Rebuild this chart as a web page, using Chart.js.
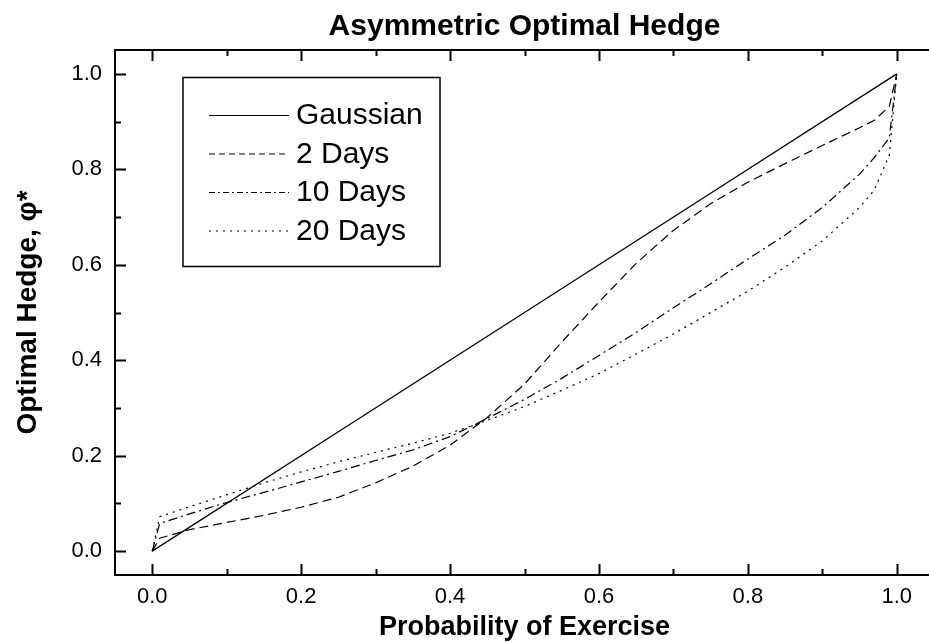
<!DOCTYPE html>
<html><head><meta charset="utf-8">
<script src="https://cdn.jsdelivr.net/npm/chart.js@4"></script>
<style>
html,body{margin:0;padding:0;background:#fff;overflow:hidden;width:929px;height:642px}
#wrap{width:945px;height:642px}
</style>
</head><body><div id="wrap"><canvas id="c" width="945" height="642"></canvas></div>
<script>
// ---- data ----
const probGrid = [0, 0.01, 0.05, 0.1, 0.15, 0.2, 0.25, 0.3, 0.35, 0.4, 0.45, 0.5, 0.55, 0.6, 0.65, 0.7, 0.75, 0.8, 0.85, 0.9, 0.95, 0.97, 0.99, 1.0];
const gaussX = [0, 0.25, 0.5, 0.75, 1.0];
const gaussY = [0, 0.25, 0.5, 0.75, 1.0];
const days2Y  = [0, 0.027, 0.045, 0.060, 0.075, 0.092, 0.113, 0.143, 0.178, 0.222, 0.280, 0.350, 0.438, 0.522, 0.603, 0.672, 0.728, 0.773, 0.812, 0.850, 0.887, 0.903, 0.932, 1.0];
const days10Y = [0, 0.058, 0.078, 0.102, 0.123, 0.145, 0.167, 0.190, 0.212, 0.240, 0.278, 0.318, 0.362, 0.410, 0.458, 0.510, 0.560, 0.612, 0.662, 0.720, 0.790, 0.825, 0.866, 1.0];
const days20Y = [0, 0.072, 0.093, 0.118, 0.143, 0.166, 0.187, 0.207, 0.226, 0.247, 0.274, 0.303, 0.337, 0.372, 0.413, 0.455, 0.500, 0.545, 0.595, 0.650, 0.720, 0.757, 0.830, 1.0];
const seriesNames = ['Gaussian', '2 Days', '10 Days', '20 Days'];
const xTickValues = [0, 0.2, 0.4, 0.6, 0.8, 1.0];
const yTickValues = [0, 0.2, 0.4, 0.6, 0.8, 1.0];
const xMinorValues = [0.1, 0.3, 0.5, 0.7, 0.9];
const yMinorValues = [0.1, 0.3, 0.5, 0.7, 0.9];

const FONT = "'Liberation Sans', Arial, sans-serif";
const pts = (xs, ys) => xs.map((x, i) => ({x: x, y: ys[i]}));

const dashStyles = [[], [9, 5], [9, 4, 2, 4], [2, 5]];

const frameTicks = {
  id: 'frameTicks',
  afterDatasetsDraw(chart) {
    const {ctx, chartArea: a, scales: {x, y}} = chart;
    ctx.save();
    ctx.strokeStyle = '#000';
    ctx.lineWidth = 2;
    ctx.strokeRect(a.left, a.top, a.right - a.left, a.bottom - a.top);
    ctx.beginPath();
    const tx = (vals, len) => vals.forEach(v => {
      const p = Math.round(x.getPixelForValue(v)) + 0.5;
      ctx.moveTo(p, a.bottom); ctx.lineTo(p, a.bottom - len);
      ctx.moveTo(p, a.top); ctx.lineTo(p, a.top + len);
    });
    const ty = (vals, len) => vals.forEach(v => {
      const p = Math.round(y.getPixelForValue(v)) + 0.5;
      ctx.moveTo(a.left, p); ctx.lineTo(a.left + len, p);
    });
    tx(xTickValues, 11); tx(xMinorValues, 6);
    ty(yTickValues, 11); ty(yMinorValues, 6);
    ctx.stroke();
    ctx.restore();
  }
};

const boxLegend = {
  id: 'boxLegend',
  afterDraw(chart) {
    const {ctx} = chart;
    ctx.save();
    ctx.strokeStyle = '#000';
    ctx.lineWidth = 1.5;
    ctx.strokeRect(183, 77.5, 257, 189);
    ctx.font = '30px ' + FONT;
    ctx.fillStyle = '#000';
    ctx.textBaseline = 'middle';
    chart.data.datasets.forEach((ds, i) => {
      const yc = 115 + i * 38.5;
      ctx.beginPath();
      ctx.lineWidth = 1.1;
      ctx.setLineDash(i === 1 ? [6, 4] : i === 2 ? [6, 3, 2, 3] : i === 3 ? [2, 5] : []);
      ctx.moveTo(209, yc + 0.5); ctx.lineTo(289, yc + 0.5);
      ctx.stroke();
      ctx.setLineDash([]);
      ctx.fillText(ds.label, 296, yc + 1);
    });
    ctx.restore();
  }
};

const datasets = [
  {label: seriesNames[0], data: pts(gaussX, gaussY)},
  {label: seriesNames[1], data: pts(probGrid, days2Y)},
  {label: seriesNames[2], data: pts(probGrid, days10Y)},
  {label: seriesNames[3], data: pts(probGrid, days20Y)}
].map((d, i) => Object.assign(d, {
  borderColor: '#000', borderWidth: i === 0 ? 1.3 : 1.2, borderDash: dashStyles[i],
  pointRadius: 0, fill: false, tension: 0
}));

new Chart(document.getElementById('c'), {
  type: 'line',
  data: {datasets},
  plugins: [frameTicks, boxLegend],
  options: {
    responsive: false, animation: false, devicePixelRatio: 1,
    layout: {padding: {left: 0, right: 11, top: 0, bottom: 0}},
    plugins: {
      legend: {display: false},
      tooltip: {enabled: false},
      title: {
        display: true, fullSize: false, text: 'Asymmetric Optimal Hedge', color: '#000',
        font: {family: FONT, size: 30, weight: 'bold', lineHeight: 1.2},
        padding: {top: 9, bottom: 5}
      }
    },
    scales: {
      x: {
        type: 'linear', min: -0.05, max: 1.05,
        grid: {display: false, drawTicks: false}, border: {display: false},
        afterBuildTicks: s => { s.ticks = xTickValues.map(v => ({value: v})); },
        afterFit: s => { s.height = 67; },
        ticks: {color: '#000', padding: 9, font: {family: FONT, size: 22}, callback: v => Number(v).toFixed(1), maxRotation: 0},
        title: {display: true, text: 'Probability of Exercise', color: '#000',
          font: {family: FONT, size: 27, weight: 'bold', lineHeight: 1}, padding: {top: 0, bottom: 0.5}}
      },
      y: {
        type: 'linear', min: -0.05, max: 1.05,
        grid: {display: false, drawTicks: false}, border: {display: false},
        afterBuildTicks: s => { s.ticks = yTickValues.map(v => ({value: v})); },
        afterFit: s => { s.width = 115; },
        ticks: {color: '#000', padding: 13, font: {family: FONT, size: 22}, callback: v => Number(v).toFixed(1)},
        title: {display: true, text: 'Optimal Hedge, \u03C6*', color: '#000',
          font: {family: FONT, size: 28, weight: 'bold', lineHeight: 1}, padding: {top: 14, bottom: 0}}
      }
    }
  }
});
</script>
</body></html>
